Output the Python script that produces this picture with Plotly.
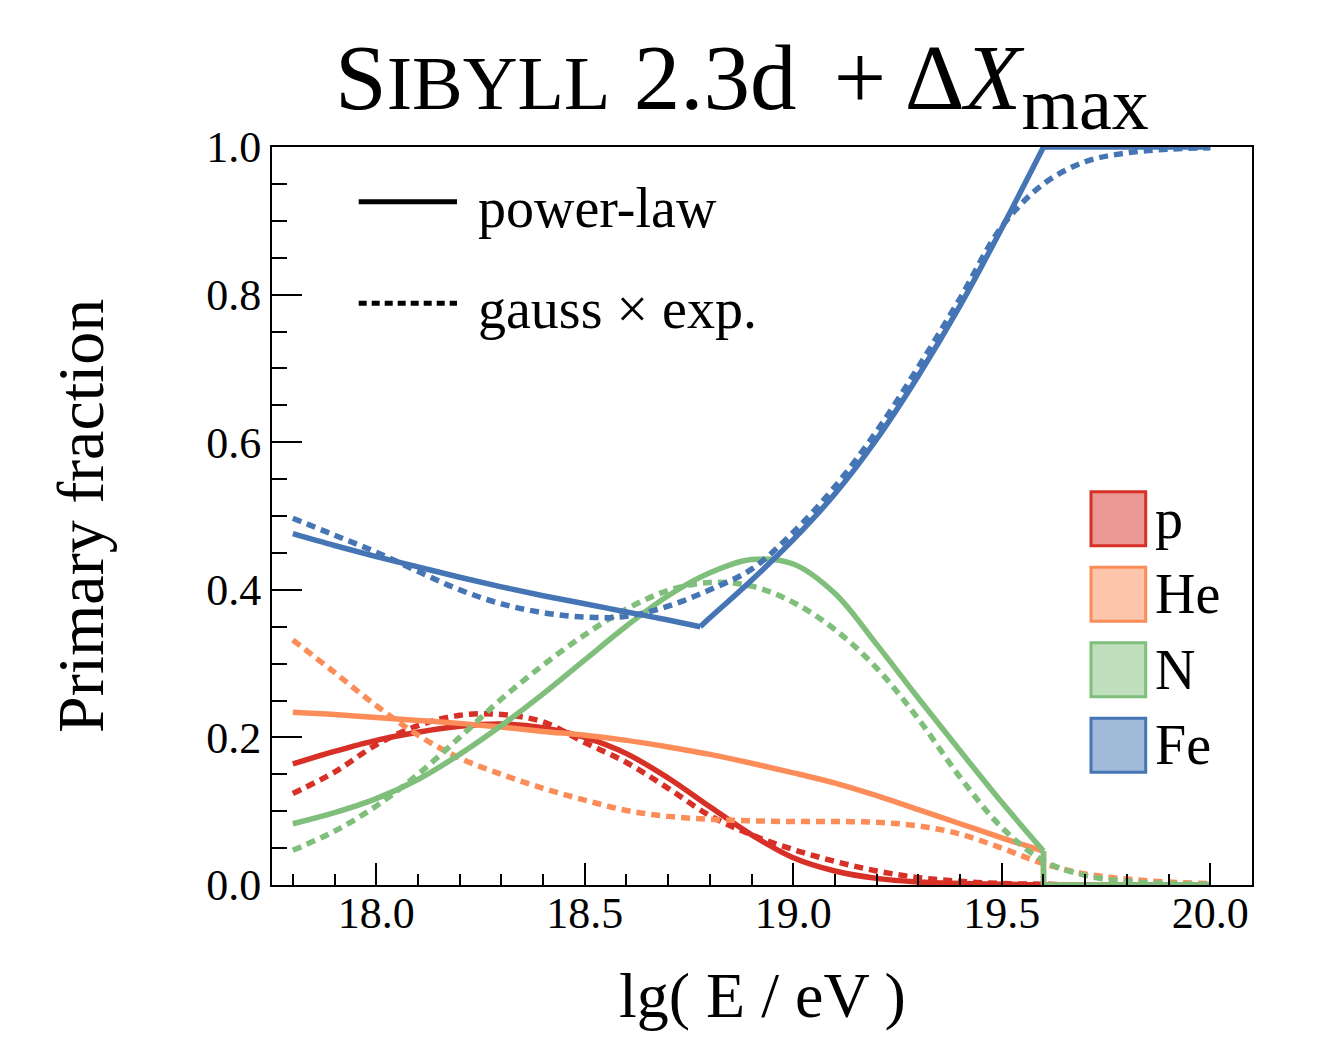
import plotly.graph_objects as go

# Energy grid, lg(E/eV)
LG_E = [17.8, 17.9, 18.0, 18.1, 18.2, 18.3, 18.4, 18.5, 18.6, 18.7, 18.8, 18.9,
        19.0, 19.1, 19.2, 19.3, 19.4, 19.5, 19.6, 19.7, 19.8, 19.9, 20.0]

# gauss x exp. parameterisation (full grid)
P_GAUSS_EXP = [0.124, 0.153, 0.190, 0.216, 0.230, 0.231, 0.221, 0.193, 0.166, 0.131, 0.094, 0.068,
               0.048, 0.032, 0.019, 0.010, 0.005, 0.002, 0.001, 0.0, 0.0, 0.0, 0.0]
HE_GAUSS_EXP = [0.332, 0.288, 0.243, 0.203, 0.172, 0.150, 0.131, 0.115, 0.101, 0.093, 0.089, 0.087,
                0.086, 0.086, 0.085, 0.080, 0.069, 0.050, 0.029, 0.015, 0.008, 0.004, 0.002]
N_GAUSS_EXP = [0.047, 0.073, 0.107, 0.150, 0.200, 0.252, 0.298, 0.339, 0.374, 0.399, 0.410, 0.405,
               0.383, 0.346, 0.294, 0.225, 0.146, 0.078, 0.033, 0.013, 0.005, 0.002, 0.001]
FE_GAUSS_EXP = [0.497, 0.474, 0.451, 0.425, 0.400, 0.381, 0.369, 0.363, 0.364, 0.378, 0.400, 0.428,
                0.478, 0.540, 0.615, 0.702, 0.795, 0.892, 0.950, 0.980, 0.992, 0.997, 0.999]

# power-law parameterisation, up to the cutoff at lg(E/eV) = 19.6
LG_E_PL = [17.8, 17.9, 18.0, 18.1, 18.2, 18.3, 18.4, 18.5, 18.6, 18.7, 18.8, 18.9,
           19.0, 19.1, 19.2, 19.3, 19.4, 19.5, 19.6]
P_POWER_LAW = [0.164, 0.181, 0.196, 0.207, 0.215, 0.218, 0.213, 0.200, 0.178, 0.145, 0.106, 0.068,
               0.037, 0.019, 0.009, 0.004, 0.002, 0.001, 0.0]
HE_POWER_LAW = [0.234, 0.231, 0.227, 0.223, 0.219, 0.214, 0.208, 0.203, 0.196, 0.187, 0.177, 0.165,
                0.152, 0.138, 0.121, 0.102, 0.083, 0.064, 0.046]
N_POWER_LAW = [0.083, 0.098, 0.117, 0.143, 0.177, 0.216, 0.259, 0.305, 0.351, 0.392, 0.423, 0.441,
               0.435, 0.395, 0.326, 0.253, 0.182, 0.112, 0.046]

# Fe power-law: falling branch, break, rising branch
FE_PL_LOW_X = [17.8, 17.9, 18.0, 18.1, 18.2, 18.3, 18.4, 18.5, 18.6, 18.7, 18.777]
FE_PL_LOW = [0.476, 0.460, 0.445, 0.431, 0.417, 0.404, 0.392, 0.381, 0.370, 0.359, 0.350]
FE_PL_HIGH_X = [18.777, 18.8, 18.9, 19.0, 19.1, 19.2, 19.3, 19.4, 19.5, 19.6]
FE_PL_HIGH = [0.350, 0.362, 0.413, 0.468, 0.530, 0.604, 0.690, 0.785, 0.890, 1.000]

# Above the cutoff
TAIL_X = [19.6, 20.0]
TAIL_LIGHT = [0.0, 0.0]
TAIL_FE = [1.0, 1.0]

ELEMENTS = ["p", "He", "N", "Fe"]
COLORS = {"p": "#d73027", "He": "#fc8d59", "N": "#7fbf7b", "Fe": "#4575b4"}
FILLS = {"p": "rgba(215,48,39,0.5)", "He": "rgba(252,141,89,0.5)",
         "N": "rgba(127,191,123,0.5)", "Fe": "rgba(69,117,180,0.5)"}

LW = 5.5
DOT = "9px,6px"
FONT = "Liberation Serif"

fig = go.Figure()


def line(x, y, color, dash="solid", shape="spline"):
    fig.add_trace(go.Scatter(x=x, y=y, mode="lines", showlegend=False, hoverinfo="skip",
                             line=dict(color=color, width=LW, dash=dash, shape=shape,
                                       smoothing=1.0)))


power_law = {"p": P_POWER_LAW, "He": HE_POWER_LAW, "N": N_POWER_LAW}
gauss_exp = {"p": P_GAUSS_EXP, "He": HE_GAUSS_EXP, "N": N_GAUSS_EXP, "Fe": FE_GAUSS_EXP}

for el in ELEMENTS:
    c = COLORS[el]
    if el == "Fe":
        line(FE_PL_LOW_X, FE_PL_LOW, c)
        line(FE_PL_HIGH_X, FE_PL_HIGH, c)
        line([FE_PL_HIGH_X[-1]] + TAIL_X, [FE_PL_HIGH[-1]] + TAIL_FE, c, shape="linear")
    else:
        ys = power_law[el]
        line(LG_E_PL, ys, c)
        line([LG_E_PL[-1]] + TAIL_X, [ys[-1]] + TAIL_LIGHT, c, shape="linear")
    line(LG_E, gauss_exp[el], c, dash=DOT)

# geometry of the plotting area in pixels (used for the hand-made legends)
W, H = 1324, 1037
ML, MR, MT, MB = 272, 72, 147, 152
PW, PH = W - ML - MR, H - MT - MB


def px(xp):
    return (xp - ML) / PW


def py(yp):
    return (H - MB - yp) / PH


shapes = []
annotations = []

# line-style legend
for label, ypix, dash in [("power-law", 201.7, "solid"), ("gauss \u00d7 exp.", 303.3, "8px,5px")]:
    shapes.append(dict(type="line", xref="paper", yref="paper",
                       x0=px(358.7), x1=px(457), y0=py(ypix), y1=py(ypix),
                       line=dict(color="black", width=5, dash=dash)))
    annotations.append(dict(text=label, xref="paper", yref="paper", x=px(476), y=py(ypix + 6),
                            xanchor="left", yanchor="middle", showarrow=False,
                            font=dict(family=FONT, size=56, color="black")))

# element legend
for i, el in enumerate(ELEMENTS):
    top = 491.7 + i * 75.5
    shapes.append(dict(type="rect", xref="paper", yref="paper",
                       x0=px(1091), x1=px(1145.7), y0=py(top + 54), y1=py(top),
                       fillcolor=FILLS[el], line=dict(color=COLORS[el], width=3)))
    annotations.append(dict(text=el, xref="paper", yref="paper", x=px(1153), y=py(top + 27),
                            xanchor="left", yanchor="middle", showarrow=False,
                            font=dict(family=FONT, size=56, color="black")))

# axis titles
annotations.append(dict(text="lg( E / eV )", xref="paper", yref="paper", x=0.5, y=py(995),
                        xanchor="center", yanchor="middle", showarrow=False,
                        font=dict(family=FONT, size=64, color="black")))
annotations.append(dict(text="Primary fraction", xref="paper", yref="paper", x=px(80), y=0.5,
                        xanchor="center", yanchor="middle", textangle=-90, showarrow=False,
                        font=dict(family=FONT, size=66, color="black")))

# title
annotations.append(dict(text=("S<span style='font-size:76px'>IBYLL</span> 2.3d\u2009\u2009+\u2009\u0394<i>X</i>"
                              "<sub><span style='font-size:74px'>max</span></sub>"),
                        xref="paper", yref="paper", x=px(742), y=py(85),
                        xanchor="center", yanchor="middle", showarrow=False,
                        font=dict(family=FONT, size=93, color="black")))

axis_common = dict(showline=True, linewidth=2, linecolor="black", mirror=True,
                   showgrid=False, zeroline=False, ticks="inside", tickwidth=2,
                   tickcolor="black", tickformat=".1f",
                   tickfont=dict(family=FONT, size=44, color="black"))

fig.update_layout(
    width=W, height=H,
    margin=dict(l=ML, r=MR, t=MT, b=MB),
    plot_bgcolor="white", paper_bgcolor="white",
    showlegend=False,
    shapes=shapes, annotations=annotations,
    xaxis=dict(range=[17.75, 20.1], tickmode="linear", tick0=18.0, dtick=0.5, ticklen=22,
               ticklabelstandoff=-12,
               minor=dict(dtick=0.1, tick0=17.8, ticklen=11, tickwidth=2, tickcolor="black",
                          ticks="inside", showgrid=False),
               **axis_common),
    yaxis=dict(range=[0, 1], tickmode="linear", tick0=0, dtick=0.2, ticklen=30,
               minor=dict(dtick=0.05, ticklen=15, tickwidth=2, tickcolor="black",
                          ticks="inside", showgrid=False),
               **axis_common),
)

fig.write_html("out.html")
